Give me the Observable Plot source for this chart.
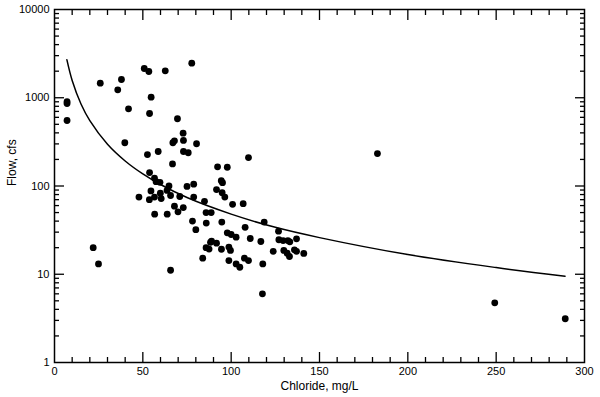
<!DOCTYPE html>
<html>
<head>
<meta charset="utf-8">
<script src="https://cdn.jsdelivr.net/npm/d3@7"></script>
<script src="https://cdn.jsdelivr.net/npm/@observablehq/plot@0.6"></script>
<style>
  html, body { margin: 0; padding: 0; background: #fff; }
  #chart svg { display: block; font-family: Arial, "Liberation Sans", Helvetica, sans-serif; }
</style>
</head>
<body>
<div id="chart"></div>
<script>
// Observed samples (chloride mg/L, flow cfs)
const chloride = [
  7.1, 7.1, 7.1, 25.9, 35.8, 37.9, 41.9, 50.8, 53.4, 54.7,
  53.8, 62.7, 69.6, 77.7, 39.8, 52.6, 58.7, 67.0, 67.9, 72.8,
  73.0, 80.4, 73.0, 75.7, 66.8, 53.8, 56.6, 57.5, 59.7, 64.8,
  63.7, 75.0, 78.8, 47.8, 54.6, 53.7, 56.6, 59.9, 60.4, 65.7,
  70.9, 78.8, 84.9, 67.9, 69.9, 72.9, 56.7, 63.8, 78.1, 80.0,
  85.9, 85.8, 88.7, 85.8, 87.5, 88.3, 83.9, 65.7, 21.9, 24.9,
  109.8, 92.3, 97.8, 94.4, 95.1, 91.7, 94.9, 96.4, 100.8, 106.8,
  94.7, 118.7, 107.9, 97.8, 100.0, 102.8, 110.8, 116.8, 126.8, 127.0,
  129.4, 132.1, 133.2, 137.0, 88.9, 91.7, 94.5, 98.7, 99.6, 123.8,
  129.8, 131.7, 133.0, 135.8, 137.0, 141.1, 98.7, 107.5, 109.8, 102.8,
  104.9, 117.9, 117.7, 182.8, 249.2, 289.1
];
const flow = [
  906, 861, 552, 1462, 1231, 1610, 750, 2145, 1983, 1015,
  663, 2020, 578, 2464, 309, 227, 246, 309, 325, 397,
  328, 301, 246, 238, 178, 142, 123, 112, 110, 100,
  89, 99, 105, 75, 88, 70, 75, 83, 72, 78,
  76, 75, 67, 59, 51, 57, 48, 48, 40, 32,
  38, 50, 50, 20, 19.3, 23, 15.2, 11.1, 20, 13.1,
  210, 165, 163, 115, 109, 91, 84, 75, 62, 63,
  39, 39, 34, 29.5, 28.2, 26.3, 25.4, 23.5, 30.8, 24.6,
  24.1, 24.1, 23.3, 25.2, 23.7, 22.5, 19.2, 20.3, 18.6, 18.2,
  18.6, 17.3, 15.9, 18.9, 18.2, 17.2, 14.3, 15.2, 14.3, 13.1,
  12.0, 13.1, 6.0, 233, 4.75, 3.13
];

// Fitted curve
const curveX = [7, 10, 15, 20, 30, 40, 50, 60, 75, 100, 125, 150, 200, 250, 289];
const curveY = [2700, 1570, 850, 550, 297, 192, 137, 104, 74, 48, 34, 26, 16.7, 11.9, 9.5];

// Tick values
const xLabels = [0, 50, 100, 150, 200, 250, 300];
const xMajor = [50, 100, 150, 200, 250];
const xMinor = [10, 20, 30, 40, 60, 70, 80, 90, 110, 120, 130, 140, 160, 170, 180, 190, 210, 220, 230, 240, 260, 270, 280, 290];
const yLabels = [1, 10, 100, 1000, 10000];
const yMajor = [10, 100, 1000];
const yMinor = [2, 3, 4, 5, 6, 7, 8, 9, 20, 30, 40, 50, 60, 70, 80, 90,
  200, 300, 400, 500, 600, 700, 800, 900, 2000, 3000, 4000, 5000, 6000, 7000, 8000, 9000];

const xTitle = "Chloride, mg/L";
const yTitle = "Flow, cfs";

const W = 600, H = 397;
const mL = 54, mR = 16, mT = 9, mB = 35;
const major = 10, minor = 5;
const font = 'Arial, "Liberation Sans", Helvetica, sans-serif';

const points = chloride.map((c, i) => ({c, f: flow[i]}));
const curve = curveX.map((c, i) => ({c, f: curveY[i]}));

const blank = () => "";
// inward ticks built on Plot's own axis marks, shifted into the frame by their length
const inward = {bottom: -1, top: 1, left: 1, right: -1};
const xTicks = (vals, anchor, len) =>
  Plot.axisX(vals, {anchor, tickSize: len, dy: inward[anchor] * len, tickFormat: blank, label: null, stroke: "black", strokeWidth: 1.3});
const yTicks = (vals, anchor, len) =>
  Plot.axisY(vals, {anchor, tickSize: len, dx: inward[anchor] * len, tickFormat: blank, label: null, stroke: "black", strokeWidth: 1.3});

const chart = Plot.plot({
  width: W,
  height: H,
  marginLeft: mL,
  marginRight: mR,
  marginTop: mT,
  marginBottom: mB,
  style: {fontSize: "11px", fontFamily: font, color: "black", background: "white"},
  x: {domain: [0, 300]},
  y: {type: "log", domain: [1, 10000]},
  marks: [
    // tick labels
    Plot.axisX(xLabels, {anchor: "bottom", tickSize: 0, tickPadding: 5, label: null, fontSize: 11, tickFormat: d => String(d)}),
    Plot.axisY(yLabels, {anchor: "left", tickSize: 0, tickPadding: 5, label: null, fontSize: 11, tickFormat: d => String(d)}),
    // inward ticks on all four sides
    xTicks(xMajor, "bottom", major),
    xTicks(xMinor, "bottom", minor),
    xTicks(xMajor, "top", major),
    xTicks(xMinor, "top", minor),
    yTicks(yMajor, "left", major),
    yTicks(yMinor, "left", minor),
    yTicks(yMajor, "right", major),
    yTicks(yMinor, "right", minor),
    // frame
    Plot.frame({stroke: "black", strokeWidth: 1.5}),
    // fitted curve
    Plot.line(curve, {x: "c", y: "f", stroke: "black", strokeWidth: 1.5, curve: "catmull-rom"}),
    // samples
    Plot.dot(points, {x: "c", y: "f", r: 3.4, fill: "black", stroke: "none"}),
    // axis titles
    Plot.text([xTitle], {text: d => d, frameAnchor: "bottom", dy: 27, fontSize: 12, fill: "black"}),
    Plot.text([yTitle], {text: d => d, frameAnchor: "left", dx: -42, rotate: -90, fontSize: 12, fill: "black"})
  ]
});
document.getElementById("chart").appendChild(chart);
</script>
</body>
</html>
